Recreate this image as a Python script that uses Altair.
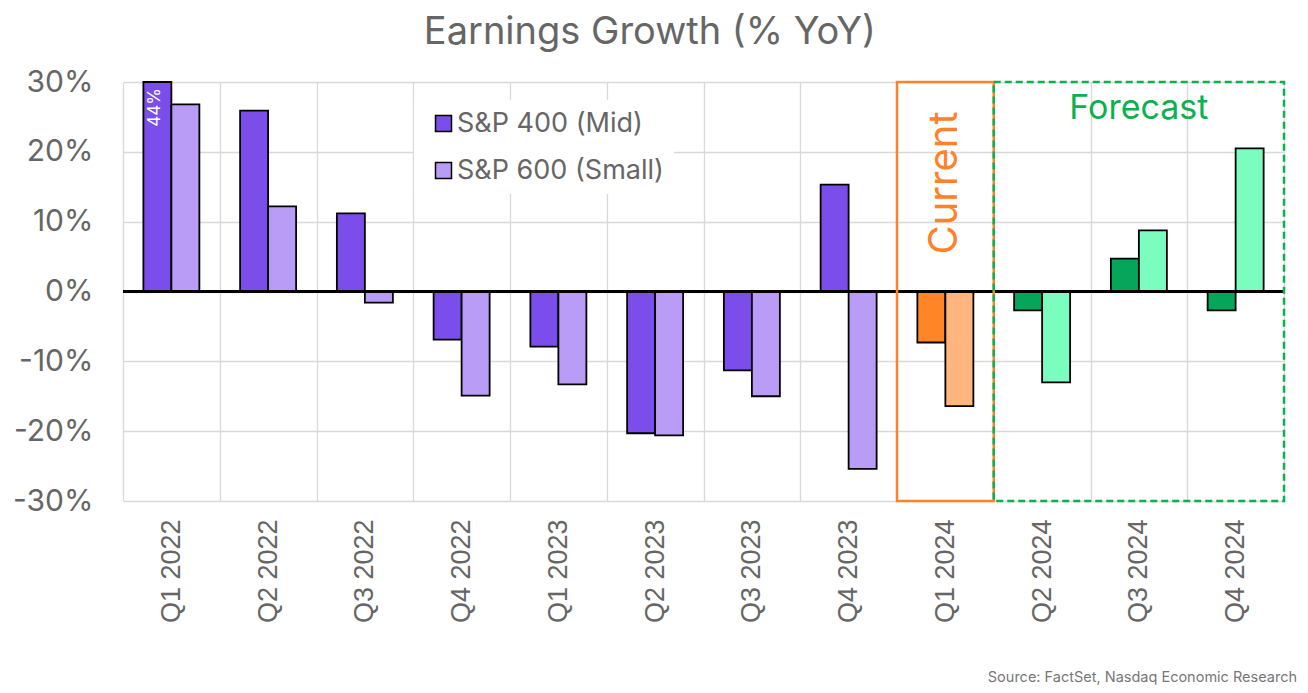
import altair as alt
import pandas as pd

quarters = ["Q1 2022", "Q2 2022", "Q3 2022", "Q4 2022",
            "Q1 2023", "Q2 2023", "Q3 2023", "Q4 2023",
            "Q1 2024", "Q2 2024", "Q3 2024", "Q4 2024"]
mid_growth = [44, 25.9, 11.2, -6.9, -7.9, -20.3, -11.3, 15.3, -7.3, -2.7, 4.7, -2.7]
small_growth = [26.8, 12.2, -1.6, -14.9, -13.3, -20.6, -15.0, -25.4, -16.4, -13.0, 8.75, 20.5]
periods = ["Actual"] * 8 + ["Current"] + ["Forecast"] * 3
series_names = ["S&P 400 (Mid)", "S&P 600 (Small)"]

hist_colors = ["#7B4DEA", "#B89CF5"]
proj_keys = ["Current|S&P 400 (Mid)", "Current|S&P 600 (Small)",
             "Forecast|S&P 400 (Mid)", "Forecast|S&P 600 (Small)"]
proj_colors = ["#FF8526", "#FFB57E", "#05A65A", "#7BFDC0"]

title_text = "Earnings Growth (% YoY)"
source_text = "Source: FactSet, Nasdaq Economic Research"
current_label = ["Current"]
current_quarter = ["Q1 2024"]
forecast_label = ["Forecast"]
forecast_start = ["Q2 2024"]
forecast_end = ["Q4 2024"]
forecast_mid = ["Q3 2024"]

rows = []
for q, p, m, s in zip(quarters, periods, mid_growth, small_growth):
    rows.append({"quarter": q, "period": p, "series": series_names[0], "value": m})
    rows.append({"quarter": q, "period": p, "series": series_names[1], "value": s})
df = pd.DataFrame(rows)

W, H = 1161, 419
GRID = "#d9d9d9"
LABEL = "#666666"

x_scale = alt.Scale(domain=quarters, paddingInner=0, paddingOuter=0)
x_axis = alt.Axis(title=None, labelAngle=270, labelFontSize=27, labelFont="Liberation Sans",
                  labelColor=LABEL, ticks=False, domain=False, grid=True, tickBand="extent",
                  gridColor=GRID, gridWidth=1.3, labelPadding=18)
y_scale = alt.Scale(domain=[-30, 30], nice=False)
y_axis = alt.Axis(title=None, values=[-30, -20, -10, 0, 10, 20, 30], labelExpr="datum.value + '%'",
                  ticks=False, domain=False, gridColor=GRID, gridWidth=1.3,
                  labelFontSize=30, labelFont="Inter", labelColor=LABEL, labelPadding=30)
xoff = alt.XOffset("series:N", sort=series_names,
                   scale=alt.Scale(domain=series_names, paddingInner=0, paddingOuter=0.7277))

base = alt.Chart(df).transform_calculate(
    plot_value="max(min(datum.value, 30), -30)",
    key="datum.period + '|' + datum.series",
).encode(
    x=alt.X("quarter:N", scale=x_scale, axis=x_axis),
    xOffset=xoff,
    y=alt.Y("plot_value:Q", scale=y_scale, axis=y_axis),
)

hist = base.transform_filter("datum.period == 'Actual'").mark_bar(
    stroke="black", strokeWidth=1.8
).encode(
    color=alt.Color("series:N", scale=alt.Scale(domain=series_names, range=hist_colors),
                    legend=alt.Legend(title=None, orient="none", legendX=291, legendY=18,
                                      symbolType="square", symbolSize=256,
                                      symbolStrokeColor="black", symbolStrokeWidth=1.5,
                                      labelFontSize=27, labelFont="Inter", labelColor=LABEL,
                                      labelLimit=0, rowPadding=19, labelOffset=0, padding=10,
                                      symbolOffset=6, fillColor="white"))
)

proj = base.transform_filter("datum.period != 'Actual'").mark_bar(
    stroke="black", strokeWidth=1.8
).encode(
    fill=alt.Fill("key:N", scale=alt.Scale(domain=proj_keys, range=proj_colors), legend=None)
)

clip_label = base.transform_filter("datum.value > 30").transform_calculate(
    lbl="format(datum.value, '.0f') + '%'"
).mark_text(angle=270, align="right", baseline="middle", dx=-6, dy=-2, color="white",
            fontSize=17, font="Inter").encode(text="lbl:N")

zero = alt.Chart(df).mark_rule(color="black", strokeWidth=2).encode(y=alt.datum(0))

cur_df = pd.DataFrame({"quarter": current_quarter, "label": current_label})
cur_box = alt.Chart(cur_df).mark_rect(fill="transparent", stroke="#FF8228", strokeWidth=2.5).encode(
    x=alt.X("quarter:N", scale=x_scale, axis=x_axis),
    y=alt.datum(30), y2=alt.datum(-30),
)
cur_text = alt.Chart(cur_df).mark_text(angle=270, align="center", baseline="middle",
                                       fontSize=40, font="Inter", color="#FF8228").encode(
    x=alt.X("quarter:N", scale=x_scale, axis=x_axis),
    y=alt.value(101), text="label:N",
)

fc_df = pd.DataFrame({"start": forecast_start, "end": forecast_end, "mid": forecast_mid,
                      "label": forecast_label})
fc_box = alt.Chart(fc_df).mark_rect(fill="transparent", stroke="#0BB04F", strokeWidth=2.5,
                                    strokeDash=[7, 4]).encode(
    x=alt.X("start:N", scale=x_scale, axis=x_axis, bandPosition=0),
    x2=alt.X2("end", bandPosition=1),
    y=alt.datum(30), y2=alt.datum(-30),
)
fc_text = alt.Chart(fc_df).mark_text(align="center", baseline="middle", fontSize=34,
                                     font="Inter", color="#0BB04F").encode(
    x=alt.X("mid:N", scale=x_scale, axis=x_axis),
    y=alt.value(27), text="label:N",
)

src = alt.Chart(pd.DataFrame({"label": [source_text]})).mark_text(
    align="right", baseline="middle", fontSize=14.5, font="Inter", color="#777777"
).encode(x=alt.value(W + 13), y=alt.value(H + 177), text="label:N")

chart = alt.layer(hist, proj, zero, clip_label, cur_box, fc_box, cur_text, fc_text, src).properties(
    width=W, height=H,
    padding={"left": 4, "top": 6, "right": 0, "bottom": 0},
    title=alt.TitleParams(title_text, fontSize=38, font="Inter", fontWeight="normal",
                          color="#666666", anchor="middle", frame="bounds", offset=15, dx=-5),
).resolve_scale(color="independent").configure_view(stroke=None)

chart.save("out.html", embed_options={"renderer": "svg", "actions": False})
